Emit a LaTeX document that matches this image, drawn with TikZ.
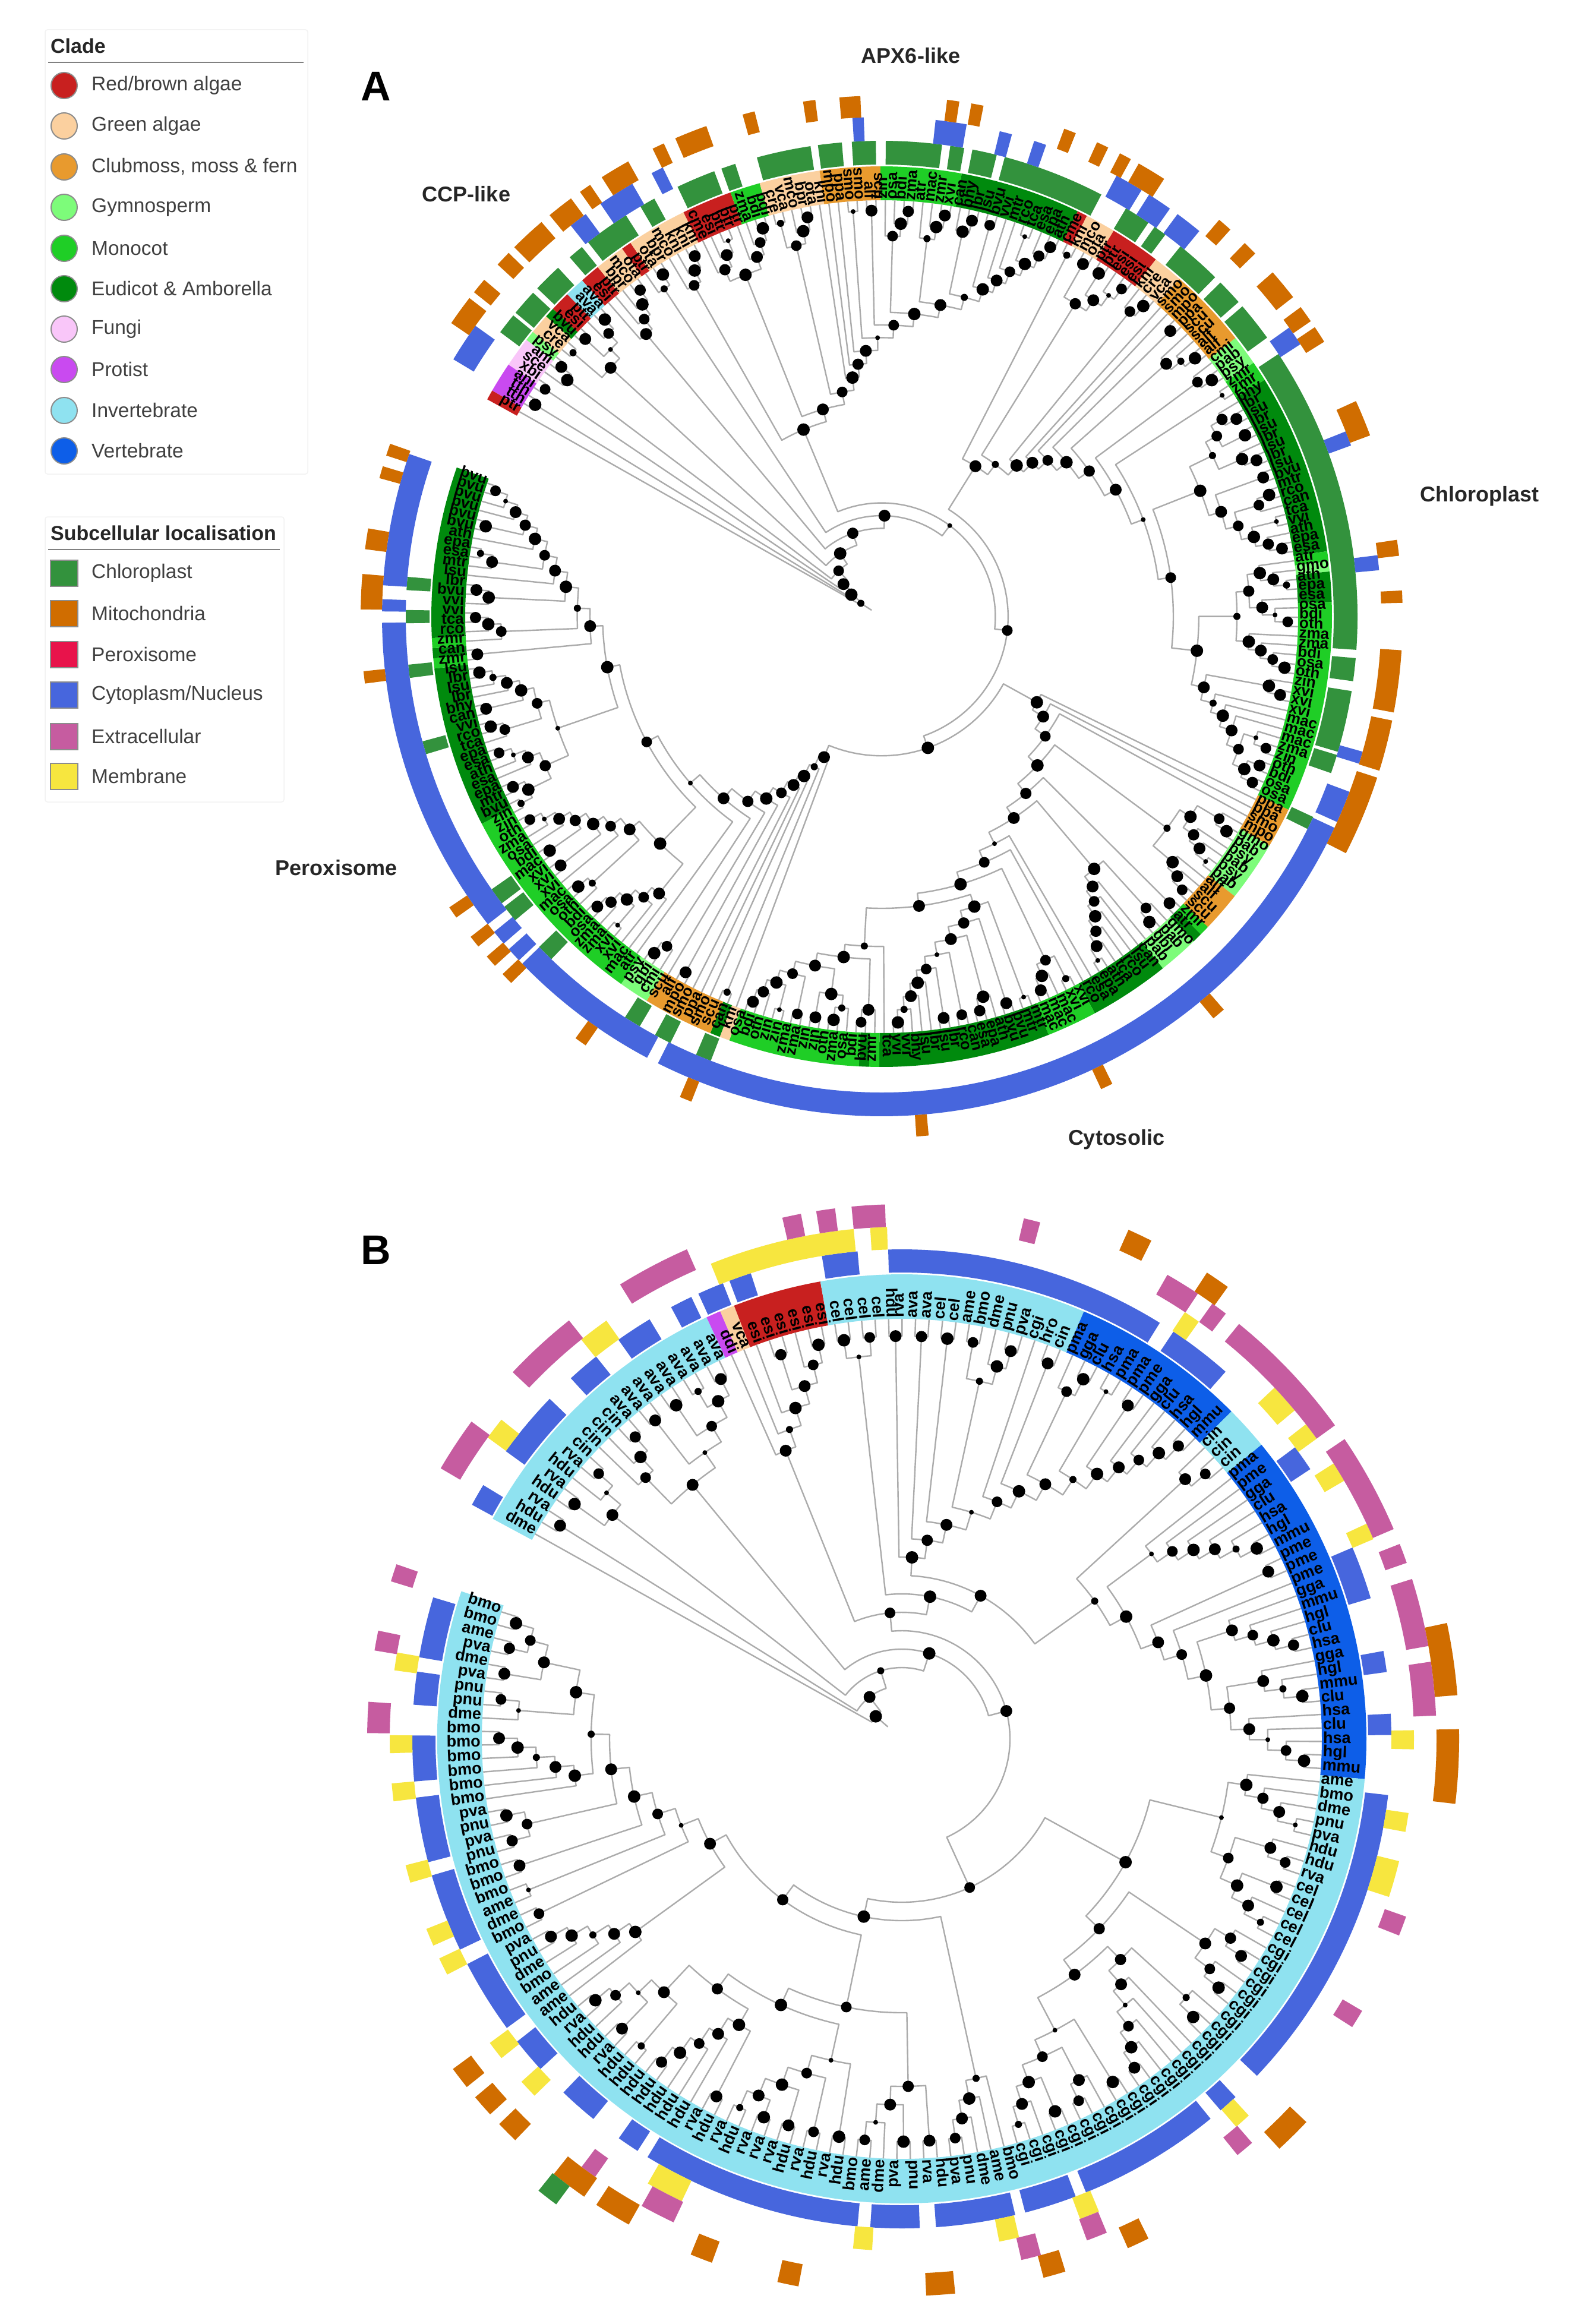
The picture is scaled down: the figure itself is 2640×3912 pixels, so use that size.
\documentclass[tikz,border=0pt]{standalone}
\usepackage{fontspec}
\setmainfont{Liberation Sans}
\definecolor{cR}{HTML}{C8201F}\definecolor{cGA}{HTML}{FBD09F}\definecolor{cCl}{HTML}{E89A2E}
\definecolor{cGy}{HTML}{7DFC7A}\definecolor{cMo}{HTML}{1FCE26}\definecolor{cEu}{HTML}{008A0D}
\definecolor{cF}{HTML}{F9C6F9}\definecolor{cP}{HTML}{C94AF0}\definecolor{cIv}{HTML}{8FE2F0}\definecolor{cVt}{HTML}{0D5EE8}
\definecolor{lCh}{HTML}{33923D}\definecolor{lMi}{HTML}{D06D00}\definecolor{lPx}{HTML}{E8134B}
\definecolor{lCy}{HTML}{4766DD}\definecolor{lEx}{HTML}{C65CA0}\definecolor{lMe}{HTML}{F7E63F}
\definecolor{branchgray}{HTML}{ABABAB}
\tikzset{
 branch/.style={draw=branchgray,line width=2.4pt,line join=round},
 treedot/.style={circle,fill=black,inner sep=0pt,outer sep=0pt},
 leaflab/.style={inner sep=0pt,text=black,font=\LabFont},
 groupname/.style={font=\bfseries\fontsize{36}{36}\selectfont,inner sep=0pt,text=black!85},
 legendhead/.style={font=\bfseries\fontsize{34}{34}\selectfont,inner sep=0pt,anchor=west,text=black!85},
 legendtext/.style={font=\fontsize{33.5}{34}\selectfont,inner sep=0pt,anchor=west,text=black!75},
 cladekey/.style={circle,minimum size=44pt,inner sep=0pt,draw=black!45,line width=2pt},
 lockey/.style={rectangle,minimum width=46pt,minimum height=44pt,inner sep=0pt,draw=black!45,line width=1.5pt},
 panelbox/.style={draw=black!5,line width=1.5pt,rounded corners=4pt},
 panelrule/.style={draw=black!50,line width=2pt}
}
\newcount\tsp \newcount\tnode \newcount\tleaf \newcount\tcnt
\gdef\DotList{}
\def\Push#1#2#3{\global\advance\tsp1
 \expandafter\xdef\csname stA\the\tsp\endcsname{#1}%
 \expandafter\xdef\csname stH\the\tsp\endcsname{#2}%
 \expandafter\xdef\csname stN\the\tsp\endcsname{#3}}
\def\Lf{\global\advance\tleaf1 \pgfmathsetmacro\aL{\aStart-(\the\tleaf-1)*\pitch}\Push{\aL}{0}{\Tn-l\the\tleaf}}
\def\Jo{%
 \edef\xA{\csname stA\the\tsp\endcsname}\edef\xH{\csname stH\the\tsp\endcsname}\edef\xN{\csname stN\the\tsp\endcsname}%
 \global\advance\tsp-1
 \edef\yA{\csname stA\the\tsp\endcsname}\edef\yH{\csname stH\the\tsp\endcsname}\edef\yN{\csname stN\the\tsp\endcsname}%
 \global\advance\tsp-1
 \pgfmathtruncatemacro\hN{max(\xH,\yH)+1}%
 \pgfmathsetmacro\rN{\Rzero-\Rstep*\hN}%
 \pgfmathsetmacro\mN{(\xA+\yA)/2}%
 \global\advance\tnode1
 \pgfmathtruncatemacro\sK{mod(\the\tnode,11)}%
 \edef\dsz{\ifcase\sK\space 19\or 21\or 18\or 20\or 21\or 12\or 20\or 21\or 18\or 8\or 20\fi}%
 \coordinate (\Tn-n\the\tnode) at (\mN:\rN pt);
 \xdef\DotList{\unexpanded\expandafter{\DotList}\noexpand\node[treedot,minimum size=\dsz pt] (\Tn-d\the\tnode) at (\mN:\rN pt) {};}%
 \draw[branch] (\yN) -- (\yA:\rN pt) arc[start angle=\yA,end angle=\xA,radius=\rN pt] -- (\xN);
 \Push{\mN}{\hN}{\Tn-n\the\tnode}}
\def\Jn#1{\foreach\qq in {1,...,#1}{\Jo}}
\def\Ch{\Lf\Lf\Jo}
\def\Ln#1{\foreach\qq in {1,...,#1}{\Lf}}
\def\Rl#1{\foreach\qq in {1,...,#1}{\Lf}\pgfmathtruncatemacro\jN{#1-1}\foreach\qq in {1,...,\jN}{\Jo}}
\def\Bump#1{\expandafter\xdef\csname stH\the\tsp\endcsname{\the\numexpr\csname stH\the\tsp\endcsname+#1\relax}}
\def\RootStem#1{\edef\xA{\csname stA\the\tsp\endcsname}\edef\xN{\csname stN\the\tsp\endcsname}%
 \draw[branch] (\xN) -- (\xA:#1pt);\DotList\gdef\DotList{}}
% sectors
\newcommand\SecF[5]{\fill[#1] (#4:#2pt) arc[start angle=#4,end angle=#5,radius=#2pt] -- (#5:#3pt) arc[start angle=#5,end angle=#4,radius=#3pt] -- cycle;}
\newcommand\Sc[4]{\foreach\cq/\wq in {#4}{\pgfmathsetmacro\pq{\cq+\wq*\wf}\pgfmathsetmacro\mq{\cq-\wq*\wf}\SecF{#1}{#2}{#3}{\pq}{\mq}}}
\newcommand\Sr[4]{\foreach\pq/\mq in {#4}{\SecF{#1}{#2}{#3}{\pq}{\mq}}}
% leaf groups
\def\Gcount#1#2{\foreach\q in {#2}{\global\advance\tleaf1 }}
\def\Gsect#1#2{\global\tcnt=0 \foreach\q in {#2}{\global\advance\tcnt1 }%
 \pgfmathsetmacro\aS{\aStart-\the\tleaf*\pitch+\pitch/2}%
 \pgfmathsetmacro\aE{\aStart-(\the\tleaf+\the\tcnt-1)*\pitch-\pitch/2}%
 \global\advance\tleaf\tcnt
 \SecF{#1}{\Rin}{\Rout}{\aS}{\aE}}
\def\Glab#1#2{\foreach\q in {#2}{\global\advance\tleaf1
 \pgfmathsetmacro\aL{\aStart-(\the\tleaf-1)*\pitch}%
 \pgfmathsetmacro\rT{\Rin+2}%
 \coordinate (\Tn-l\the\tleaf) at (\aL:\Rin pt);
 \pgfmathsetmacro\cL{cos(\aL)}%
 \ifdim\cL pt<0pt
  \pgfmathsetmacro\rotL{\aL+180}%
  \node[leaflab,rotate=\rotL,anchor=mid east] (\Tn-t\the\tleaf) at (\aL:\rT pt) {\q};
 \else
  \node[leaflab,rotate=\aL,anchor=mid west] (\Tn-t\the\tleaf) at (\aL:\rT pt) {\q};
 \fi}}
\def\RunGroups#1{\global\tleaf=0 \let\G\Gcount #1%
 \pgfmathsetmacro\pitch{\aRange/(\the\tleaf-1)}%
 \global\tleaf=0 \let\G\Gsect #1%
 \global\tleaf=0 \let\G\Glab #1%
 \global\tleaf=0 \global\tsp=0 }
\def\GroupsA{%
\G{cR}{ptr}\G{cP}{tth,tth,ani}\G{cF}{xbi,sce,ani}\G{cGy}{psy}\G{cGA}{cre,vca}\G{cEu}{bvu}\G{cR}{esi,ptr}\G{cIv}{ava,ava}\G{cR}{esi,ptr}%
\G{cGA}{bpr,mco,ota}\G{cR}{ptr}\G{cGA}{ota,bpr,mco,kni,kni,kni}\G{cR}{cme,esi,ptr,ptr,ptr}\G{cMo}{zma,bdi,bdi}\G{cGA}{cre,vca,mco,bpr,ota,kni}%
\G{cCl}{mpo,ppa,smo,smo,alf,scu}\G{cMo}{zin,osa,bdi,zma,atr,mac,zmr,xvi}\G{cEu}{can,bhy,lbr,lsu,bvu,vvi,mtr,rco,tca,esa,epa,ath}\G{cR}{cme}%
\G{cGA}{kni,mco,ota}\G{cR}{ptr,ptr,esi,esi,esi}\G{cGA}{kni,cre,vca}\G{cCl}{smo,smo,mpo,ppa,scu,scu,alf,alf}\G{cGy}{cmi,pab,psy}\G{cMo}{zmr,zmr}%
\G{cEu}{bhy,lbr,lsu,lbr,lsu,lbr,lsu,lbr,lsu,bvu,mtr,rco,can,tca,vvi,ath,epa,esa}\G{cMo}{atr}\G{cGy}{gmo}\G{cEu}{ath,epa,esa}%
\G{cMo}{osa,bdi,oth,zma,zma,bdi,osa,oth,zin,xvi,xvi,xvi,mac,mac,mac,zma,zin,oth,bdi,osa,osa}\G{cCl}{ppa,ppa,smo,mpo}\G{cGy}{gmo,pab,psy,pab,psy,pab}%
\G{cCl}{alf,alf,scu,scu}\G{cMo}{zmr}\G{cEu}{atr}\G{cGy}{gmo,pab,gbi,pab}\G{cEu}{can,lsu,rco,tca,ath,epa,esa,rco}\G{cMo}{xvi,xvi,mac,mac,mac}%
\G{cEu}{mtr,mtr,bvu,bvu,ath,epa,esa,can,rco,lbr,lsu,lbr,lsu,bhy,vvi,vvi,tca}\G{cMo}{zmr}\G{cEu}{bvu}\G{cMo}{bdi,osa,zma,oth,zin,zin,zma,zma,zin,zin,oth,bdi,osa}%
\G{cGA}{kni}\G{cEu}{can}\G{cCl}{scu,smo,ppa,smo,mpo,alf,scu}\G{cGy}{cmi,gbi,psy}%
\G{cMo}{atr,mac,xvi,xvi,zma,zma,osa,bdi,oth,osa,mac,xvi,xvi,xvi,mac,bdi,osa,zma,oth,zin,zin}%
\G{cEu}{bvu,mtr,epa,esa,ath,esa,epa,tca,rco,vvi,can,bhy,lbr,lsu,lbr,lsu}\G{cMo}{zmr}\G{cEu}{can}\G{cMo}{zmr}%
\G{cEu}{rco,tca,vvi,vvi,bvu,lbr,lsu,mtr,esa,epa,ath,bvu,bvu,bvu,bvu,bvu,bvu}}
\def\GroupsB{%
\G{cIv}{dme,hdu,rva,hdu,rva,hdu,rva,cin,cin,cin,cin,ava,ava,ava,ava,ava,ava,ava,ava,ava}\G{cP}{ddi}\G{cGA}{vca}\G{cR}{esi,esi,esi,esi,esi,esi}%
\G{cIv}{cel,cel,cel,cel,hdu,rva,ava,ava,cel,cel,ame,bmo,dme,pnu,pva,cgi,hro,cin}\G{cVt}{pma,gga,clu,hsa,pma,pma,pme,gga,clu,hsa,hgl,mmu}\G{cIv}{cin,cin,cin}%
\G{cVt}{pma,pme,gga,clu,hsa,hgl,mmu,pme,pme,pme,gga,mmu,hgl,clu,hsa,gga,hgl,mmu,clu,hsa,clu,hsa,hgl,mmu}%
\G{cIv}{ame,bmo,dme,pnu,pva,hdu,hdu,rva,cel,cel,cel,cel,cel,cgi,cgi,cgi,cgi,cgi,cgi,cgi,cgi,cgi,cgi,cgi,cgi,cgi,cgi,cgi,cgi,cgi,cgi,cgi,cgi,cgi,cgi,cgi,cgi,cgi,%
bmo,ame,dme,pnu,pva,hdu,rva,pnu,pva,dme,ame,bmo,hdu,rva,hdu,rva,hdu,rva,rva,rva,hdu,rva,hdu,rva,hdu,hdu,hdu,hdu,hdu,hdu,hdu,rva,hdu,hdu,rva,hdu,%
ame,ame,bmo,dme,pnu,pva,bmo,dme,ame,bmo,bmo,bmo,pnu,pva,pnu,pva,bmo,bmo,bmo,bmo,bmo,bmo,dme,pnu,pnu,pva,dme,pva,ame,bmo,bmo}}
\begin{document}
\begin{tikzpicture}[x=1pt,y=1pt]
\useasboundingbox (0,0) rectangle (2640,-3912);
\fill[white] (0,0) rectangle (2640,-3912);
% ---- legends
\draw[panelbox] (76,-50) rectangle (518,-798);
\node[legendhead] (h1) at (85,-77) {Clade};
\draw[panelrule] (81,-105) -- (511,-105);
\foreach \yy/\cc/\tt [count=\i] in {144/cR/Red\slash brown algae,212/cGA/Green algae,281/cCl/{Clubmoss, moss \& fern},349/cGy/Gymnosperm,418/cMo/Monocot,486/cEu/Eudicot \& Amborella,554/cF/Fungi,622/cP/Protist,691/cIv/Invertebrate,759/cVt/Vertebrate}{
 \node[cladekey,fill=\cc] (ck\i) at (108,-\yy) {};
 \node[legendtext] (ct\i) at (154,-\yy) {\tt};
}
\draw[panelbox] (76,-870) rectangle (478,-1350);
\node[legendhead] (h2) at (85,-897) {Subcellular localisation};
\draw[panelrule] (81,-925) -- (471,-925);
\foreach \yy/\cc/\tt [count=\i] in {965/lCh/Chloroplast,1033/lMi/Mitochondria,1102/lPx/Peroxisome,1170/lCy/Cytoplasm\slash Nucleus,1240/lEx/Extracellular,1307/lMe/Membrane}{
 \node[lockey,fill=\cc] (lk\i) at (108,-\yy) {};
 \node[legendtext] (lt\i) at (154,-\yy) {\tt};
}
% ---- titles
\node[font=\bfseries\fontsize{70}{70}\selectfont,inner sep=0pt] (tA) at (633,-145) {A};
\node[font=\bfseries\fontsize{70}{70}\selectfont,inner sep=0pt] (tB) at (633,-2104) {B};
\node[groupname] (gA1) at (1533,-94) {APX6-like};
\node[groupname] (gA2) at (785,-327) {CCP-like};
\node[groupname] (gA3) at (2490,-835) {Chloroplast};
\node[groupname] (gA4) at (566,-1461) {Peroxisome};
\node[groupname] (gA5) at (1879,-1918) {Cytosolic};
% ---- tree A
\begin{scope}[shift={(1484,-1038)}]
\def\Tn{A}\def\aStart{150.5}\def\aRange{349.2}\def\Rin{701}\def\Rout{758}\def\Rzero{705}\def\Rstep{21.4}
\def\LabFont{\bfseries\fontsize{26}{26}\selectfont}
\def\wf{0.8}
\Sc{lCh}{761}{801}{142/1.6,138.7/2,134.6/2.2,130/1.2,125.3/3.5,119.5/1.2,113/3,108.8/1.1,57.5/2,54.2/1,48.3/3.5,43/2,38.3/3,-25.7/1,-112/1.2,-117.4/1.3,-121.6/1.3,-135/1.3,-141.4/1.3,-144/1.3,-164/1,-173.4/1,-180/1,-184/1}
\Sr{lCh}{761}{801}{105.2/98.6,97.7/94.8,93.6/90.7,89.5/82.7,81.7/80,79/76,75/62.5,33.5/-4,-5/-7.8,-9/-16.5,-16.9/-19.2}
\def\wf{0.72}
\Sc{lCy}{801}{841}{146.7/3.2,127.4/1.5,122.1/3,116.7/1,92.7/0.9,82/2.5,75.6/1,71.5/1,60.3/2.3,56.2/2,52.1/2.2,34.2/1.6,20.9/1.2,6.2/1.2,-16.4/1,-22.4/2.6,-137.4/1.2,-140/1.2}
\Sr{lCy}{801}{841}{-25/-116.6,-118/-136,-142/-179.3,-180.6/-182,-183.6/-199}
\def\wf{0.68}
\Sc{lMi}{841}{877}{144/2.5,140.6/1.3,136.6/1.3,132.8/3,128.1/2.2,124.7/1,120.8/2.5,115.4/1,111.5/2.7,104.8/1,98/1,93.5/1.7,82.1/1,79.4/1,68.8/1,64.9/1,62.1/1,58.8/2.4,48.8/1.2,45/1.2,39.6/2.6,35.5/1.4,32.8/1.4,22.4/3,7.6/1.3,2.2/1,-49.7/1.1,-64.4/1,-85.5/1,-112.1/1,-125.3/1,-145.4/1,-141.4/1,-138.6/1,-136/1,-173.3/1,-188.6/1.7,-196.1/1,-198.7/1}
\Sr{lMi}{841}{877}{-3.7/-10.6,-11.5/-17.2,-18/-27,-180.8/-184.7}
\RunGroups{\GroupsA}
% CCP-like
\Lf \Ch \Ch \Rl{3} \Ch\Ch\Rl{3}\Jo\Jo \Rl{5} \Rl{3}
% APX6-like
\Lf\Rl{3}\Jo \Rl{4}\Rl{4}\Jo \Ch\Rl{3}\Jo \Ln{3} \Ch \Ch \Rl{4} \Rl{4} \Rl{3} \Ch \Lf \Lf \Ch \Rl{3} \Jn{15}
% Chloroplast
\Ch \Ch\Ch\Rl{3}\Jo\Jo \Rl{3} \Lf \Lf \Ch \Rl{4} \Rl{3} \Ch
\Lf\Ch\Jo\Ch\Jo\Rl{3}\Jo \Ch \Ch\Lf\Jo \Ch\Rl{3}\Jo \Jo \Jo \Jo
\Rl{4}\Rl{4}\Jo \Rl{5} \Jo \Rl{3} \Ln{3} \Rl{3} \Ch\Ch\Jo \Jo \Jn{3} \Jo \Jo \Bump{1}
\Jo \Jn{9}
% Cytosolic
\Ln{3} \Rl{3}\Rl{4}\Jo\Rl{4}\Jo \Ch \Rl{3}\Rl{7}\Jo \Lf \Lf \Ch\Rl{3}\Jo
\Ch\Ch\Rl{3}\Ch\Ch\Lf\Lf\Rl{3}\Jn{7}
\Lf\Rl{3}\Rl{3}\Ch\Jo\Ch\Ch\Rl{3}\Jo\Jo\Jo\Jo\Jo
\Jo \Jn{9}
% Peroxisome
\Lf\Ch\Ln{3}\Ch\Lf\Rl{3}\Lf
\Lf\Lf\Ch\Rl{3}\Jn{3} \Rl{3}\Lf\Ch\Ch\Lf\Rl{3}\Jn{5} \Jo
\Ch\Ch\Jo\Rl{4}\Jo \Rl{3}\Ch\Lf\Rl{3}\Jo\Jo\Jo \Jo
\Ch \Rl{4} \Rl{3}\Lf\Rl{3}\Lf\Ch\Lf\Rl{3}\Jn{6} \Jn{13}
% backbone
\Jo\Jo\Jo \Jn{7}
\RootStem{20}
\end{scope}
% ---- tree B
\begin{scope}[shift={(1518,-2927)}]
\def\Tn{B}\def\aStart{150.8}\def\aRange{348.4}\def\Rin{707}\def\Rout{782}\def\Rzero{709}\def\Rstep{31}
\def\LabFont{\bfseries\fontsize{27}{27}\selectfont}
\def\wf{0.78}
\Sc{lCy}{785}{824}{150.1/1.7,130.6/2.5,123.2/2.8,116.8/1.7,113/2,109.3/1.7,97.3/2.7,35/2,9.1/1.6,1.7/1.6,-48.2/1.5,-124/1.7,-131.4/3,-139.7/2.7}
\Sr{lCy}{785}{824}{144/136,91.6/58.2,56.3/48.6,23/16.7,-6.6/-43.5,-50.9/-67.9,-69.2/-75.4,-76.6/-86,-87.9/-93.7,-95.2/-121.3,-143.8/-152.6,-154.5/-163.8,-165.4/-173.1,-175/-180.4,-184/-187.9,-189.6/-196.8}
\def\wf{0.63}
\Sc{lMe}{824}{862}{142.7/2,127/2.8,92.6/1.5,55.5/1.5,41.6/2.7,36.9/1.6,31.4/1.8,23.9/1.5,-0.1/1.7,-9.4/1.7,-15.9/3.3,-48.3/1.5,-68.5/1.8,-77.9/1.8,-94.4/1.7,-117.6/3.4,-136.9/1.7,-142.5/1.7,-153.6/1.6,-157.2/1.6,-164.7/1.6,-174/1.6,-179.4/1.6,-188.7/1.6}
\Sr{lMe}{824}{862}{111.9/95.4}
\def\wf{0.6}
\Sc{lEx}{862}{900}{101.9/1.7,98.2/1.7,93.6/3,75.9/1.5,58.3/3.2,53.6/1.5,20.3/1.8,-20.5/1.8,-31.6/1.7,-50.1/1.7,-68.6/1.9,-76/1.8,-117.2/3.2,-125.9/1.5,-198.1/1.6,-190.6/1.8,-182.3/2.8}
\Sr{lEx}{862}{900}{149.6/143.6,136.7/128.5,121.8/113.7,50.9/35.9,34.1/23.1,17.4/10,8.3/2.5}
\def\wf{0.65}
\Sc{lMi}{900}{938}{64.7/2,55.5/2,-45.4/3,-64.9/1.8,-74.1/1.8,-86/2.3,-101.8/1.7,-111.1/1.8,-121.3/3,-126.7/3,-135.1/1.8,-138.8/1.8,-142.5/1.8}
\Sr{lMi}{900}{938}{12/4.5,1/-6.7}
\Sc{lCh}{938}{976}{-127.7/1.7}
\RunGroups{\GroupsB}
\Lf \Ch \Ch\Lf\Ch\Jo\Jo
\Rl{4} \Ch\Ch\Ch\Ch\Jo\Jo\Jo \Jo
\Ln{3}\Ch\Rl{3}\Jn{4}
\Ch\Ch\Jo
% h13
\Ch\Ch\Ch \Ch\Rl{3}\Jo \Lf \Ch \Rl{3} \Ch \Ch \Rl{5} \Jn{9}
% N10
\Rl{3} \Rl{7} \Ch\Lf\Rl{5}\Rl{4}\Lf\Rl{4}\Jn{5} \Jo \Jo
\Jo \Jo \Jo
% M_R
\Rl{5} \Rl{3}\Ch\Rl{3}\Jo\Jo \Jo
\Rl{3}\Rl{3}\Jo \Rl{3}\Lf\Lf\Rl{4}\Jn{3} \Ch\Rl{3}\Ch\Rl{3}\Jo\Jo\Jo \Jo \Jo \Jo
% M_L
\Rl{5}
\Ch\Ch\Rl{3}\Jo\Jo
\Ch\Ch\Ch\Ch\Ch\Jn{4} \Ch\Rl{5}\Jo \Ch\Ch\Rl{3}\Jo\Jo \Jo \Jo \Jo
\Rl{6}
\Ch\Ch\Ch \Ch\Ch\Jo \Rl{6} \Rl{3}\Ch\Ch\Ch\Jo\Jo\Bump{1}\Jo \Jo \Jn{4}
\Jo \Jo \Jo
\Jo \Jo
\Jn{4}
\RootStem{31}
\end{scope}
\end{tikzpicture}
\end{document}
